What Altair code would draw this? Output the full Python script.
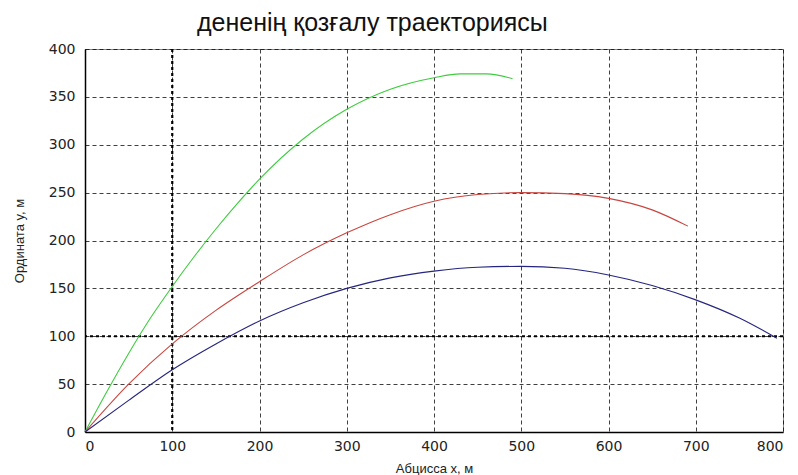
import altair as alt
import pandas as pd

green_x = [0, 25, 50, 75, 100, 125, 150, 175, 200, 250, 300, 350, 400, 430, 460, 490]
green_y = [0, 42, 82, 119, 152, 183, 212, 239, 264, 306, 337, 358, 370, 374, 374, 369]
red_x = [0, 50, 100, 150, 200, 250, 300, 350, 400, 450, 500, 550, 600, 650, 691]
red_y = [0, 50, 92, 127, 157, 185, 208, 227, 241, 248, 250, 249, 244, 232, 215]
blue_x = [0, 50, 100, 150, 200, 250, 300, 350, 400, 450, 500, 550, 600, 650, 700, 750, 793]
blue_y = [0, 33, 65, 92, 116, 135, 150, 161, 168, 172, 173, 171, 164, 153, 138, 119, 98]

x_ticks = [0, 100, 200, 300, 400, 500, 600, 700, 800]
y_ticks = [0, 50, 100, 150, 200, 250, 300, 350, 400]
bold_grid_x = [100]
bold_grid_y = [100]

rows = []
for name, xs, ys in [("green", green_x, green_y), ("red", red_x, red_y), ("blue", blue_x, blue_y)]:
    for i, (a, b) in enumerate(zip(xs, ys)):
        rows.append({"series": name, "x": a, "y": b, "order": i})
df = pd.DataFrame(rows)

colors = {"green": "#3fcc3f", "red": "#c8453f", "blue": "#25257f"}

x_scale = alt.Scale(domain=[0, 800], nice=False)
y_scale = alt.Scale(domain=[0, 400], nice=False)

lines = alt.Chart(df).mark_line(strokeWidth=1.1, interpolate="monotone").encode(
    x=alt.X("x:Q", scale=x_scale,
            axis=alt.Axis(values=x_ticks, title="Абцисса x, м")),
    y=alt.Y("y:Q", scale=y_scale,
            axis=alt.Axis(values=y_ticks, title="Ордината y, м")),
    color=alt.Color("series:N",
                    scale=alt.Scale(domain=list(colors.keys()), range=list(colors.values())),
                    legend=None),
    detail="series:N",
    order="order:Q",
)

vrules = alt.Chart(pd.DataFrame({"x": bold_grid_x})).mark_rule(
    color="#000000", strokeWidth=2.2, strokeDash=[3, 3]
).encode(x=alt.X("x:Q", scale=x_scale))

hrules = alt.Chart(pd.DataFrame({"y": bold_grid_y})).mark_rule(
    color="#000000", strokeWidth=2.2, strokeDash=[3, 3]
).encode(y=alt.Y("y:Q", scale=y_scale))

chart = alt.layer(vrules, hrules, lines).properties(
    width=698,
    height=383,
    autosize="none",
    padding={"left": 77, "top": 41, "right": 7, "bottom": 44},
    title=alt.TitleParams(
        "дененің қозғалу траекториясы",
        anchor="start", frame="group", dx=112, offset=6,
        font="Liberation Sans", fontSize=25, fontWeight="normal", color="#111111",
    ),
).configure_view(
    stroke="#888888", strokeWidth=1
).configure_axis(
    grid=True, gridColor="#000000", gridDash=[4, 3], gridOpacity=0.75, gridWidth=1,
    domainColor="#000000", domainWidth=1.5,
    tickSize=0,
    labelFont="DejaVu Sans", labelFontSize=14, labelColor="#222222",
    titleFont="Liberation Sans", titleFontSize=13, titleFontWeight="normal", titleColor="#222222",
).configure_axisX(
    labelPadding=7, titlePadding=9
).configure_axisY(
    labelPadding=10, titlePadding=22
)

chart.save("out.html", embed_options={"renderer": "svg", "actions": False})
